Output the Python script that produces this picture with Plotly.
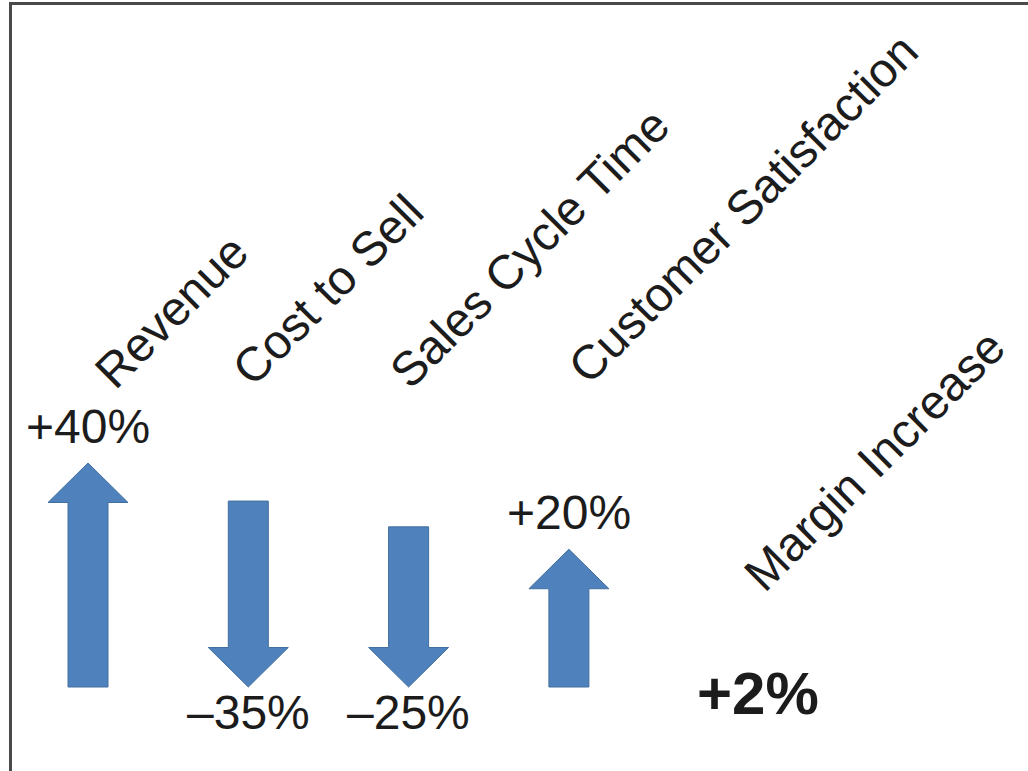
import plotly.graph_objects as go

# ---- data ----
categories = ["Revenue", "Cost to Sell", "Sales Cycle Time", "Customer Satisfaction"]
changes = [40, -35, -25, 20]                 # % change shown on each arrow
value_labels = ["+40%", "–35%", "–25%", "+20%"]
arrow_length = [40, 33.2, 28.6, 24.6]        # drawn arrow length (same % scale)
result_label = "Margin Increase"
result_value = "+2%"

# ---- layout helpers ----
W, H = 1028, 771
PX_PER_UNIT_X = 160.3
X0_PX = 88.0
PX_PER_UNIT_Y = 5.6
BASE_PX = 687.0

x_range = [-X0_PX / PX_PER_UNIT_X, (W - X0_PX) / PX_PER_UNIT_X]
y_range = [-(H - BASE_PX) / PX_PER_UNIT_Y, BASE_PX / PX_PER_UNIT_Y]


def px_to_x(px):
    return (px - X0_PX) / PX_PER_UNIT_X


def py_to_y(py):
    return (BASE_PX - py) / PX_PER_UNIT_Y


shaft_half = 20 / PX_PER_UNIT_X
head_half = 40 / PX_PER_UNIT_X
head_len = 39.5 / PX_PER_UNIT_Y

FILL = "#4F81BD"
EDGE = "#41709F"
FONT = "Liberation Sans, Arial, Helvetica, sans-serif"
TXT = "#1c1c1c"
LBL_SIZE = 48

fig = go.Figure()

for i, (cat, v, L) in enumerate(zip(categories, changes, arrow_length)):
    c = i
    if v >= 0:
        xs = [c - shaft_half, c - shaft_half, c - head_half, c, c + head_half,
              c + shaft_half, c + shaft_half, c - shaft_half]
        ys = [0, L - head_len, L - head_len, L, L - head_len, L - head_len, 0, 0]
    else:
        xs = [c - shaft_half, c - shaft_half, c - head_half, c, c + head_half,
              c + shaft_half, c + shaft_half, c - shaft_half]
        ys = [L, head_len, head_len, 0, head_len, head_len, L, L]
    fig.add_trace(go.Scatter(
        x=xs, y=ys, mode="lines", fill="toself",
        fillcolor=FILL, line=dict(color=EDGE, width=1),
        hoverinfo="skip", showlegend=False, name=cat,
    ))
    # value label
    if v >= 0:
        ly = L + 37 / PX_PER_UNIT_Y
    else:
        ly = -25 / PX_PER_UNIT_Y
    fig.add_annotation(x=c, y=ly, text=value_labels[i], showarrow=False,
                       xanchor="center", yanchor="middle",
                       font=dict(family=FONT, size=LBL_SIZE, color=TXT))

# rotated category labels (centres in pixels)
label_centres = [(171, 311), (327, 290), (529, 248), (743, 208)]
for cat, (px, py) in zip(categories, label_centres):
    fig.add_annotation(x=px_to_x(px), y=py_to_y(py), text=cat, showarrow=False,
                       textangle=-45, xanchor="center", yanchor="middle",
                       font=dict(family=FONT, size=LBL_SIZE, color=TXT))

fig.add_annotation(x=px_to_x(874), y=py_to_y(460), text=result_label, showarrow=False,
                   textangle=-45, xanchor="center", yanchor="middle",
                   font=dict(family=FONT, size=LBL_SIZE, color=TXT))
fig.add_annotation(x=px_to_x(758), y=py_to_y(693), text="<b>" + result_value + "</b>",
                   showarrow=False, xanchor="center", yanchor="middle",
                   font=dict(family=FONT, size=60, color=TXT))

# frame (left and top border only)
fig.add_shape(type="line", xref="paper", yref="paper",
              x0=10.5 / W, x1=10.5 / W, y0=0, y1=1 - 2.5 / H,
              line=dict(color="#4a4a4a", width=3))
fig.add_shape(type="line", xref="paper", yref="paper",
              x0=9 / W, x1=1, y0=1 - 3.5 / H, y1=1 - 3.5 / H,
              line=dict(color="#4a4a4a", width=3))
# white strip along the right edge
fig.add_shape(type="rect", xref="paper", yref="paper",
              x0=1 - 8 / W, x1=1, y0=0, y1=1 - 5.5 / H,
              line=dict(width=0), fillcolor="white", layer="above")

fig.update_layout(
    width=W, height=H, autosize=False,
    margin=dict(l=0, r=0, t=0, b=0),
    paper_bgcolor="white", plot_bgcolor="white",
    xaxis=dict(range=x_range, visible=False, fixedrange=True, showline=False),
    yaxis=dict(range=y_range, visible=False, fixedrange=True, showline=False),
    showlegend=False,
)

fig.write_html("out.html", config={"displayModeBar": False},
               post_script="document.documentElement.style.overflow='hidden';"
                           "document.body.style.margin='0';"
                           "document.body.style.overflow='hidden';")
